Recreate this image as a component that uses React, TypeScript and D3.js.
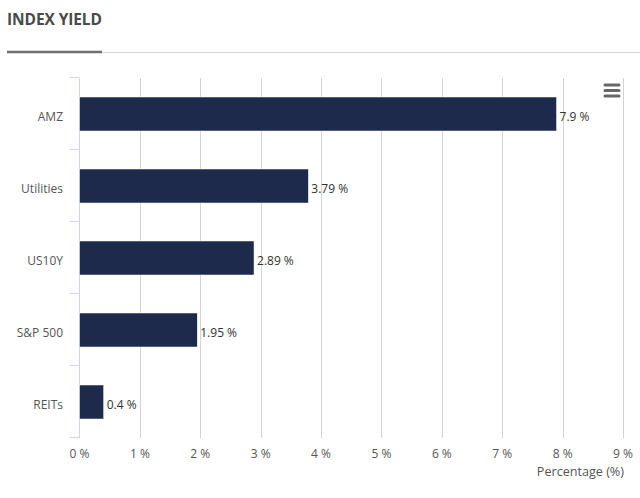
import React from "react";
import * as d3 from "d3";

const categories = ["AMZ", "Utilities", "US10Y", "S&P 500", "REITs"];
const values = [7.9, 3.79, 2.89, 1.95, 0.4];
const xTicks = [0, 1, 2, 3, 4, 5, 6, 7, 8, 9];
const title = "INDEX YIELD";
const axisTitle = "Percentage (%)";

const W = 640;
const H = 498;
const left = 79.5;
const right = 623;
const top = 78;
const bottom = 438;
const font = "'Open Sans', 'DejaVu Sans', sans-serif";

export default function App() {
  const x = d3.scaleLinear().domain([0, 9]).range([left, right]);
  const y = d3.scaleBand().domain(categories).range([top, bottom]);
  const barH = 34;
  const boundaries = d3.range(categories.length + 1).map((i) => top + i * y.step());

  return (
    <svg
      width={W}
      height={H}
      style={{ position: "absolute", left: 0, top: 0, background: "#fff" }}
      fontFamily={font}
    >
      <text x={7} y={25} fontSize={15.5} fontWeight={700} fill="#4a4a4a" letterSpacing={-0.1}>
        {title}
      </text>
      <line x1={7} x2={640} y1={52.5} y2={52.5} stroke="#d8d8d8" strokeWidth={1} />
      <line x1={7} x2={102} y1={52} y2={52} stroke="#6b6e76" strokeWidth={2.5} />

      {xTicks.slice(1).map((t) => (
        <line key={t} x1={Math.round(x(t)) + 0.5} x2={Math.round(x(t)) + 0.5} y1={top} y2={bottom} stroke="#d3d3d3" strokeWidth={1} />
      ))}

      <line x1={left} x2={left} y1={top} y2={bottom} stroke="#ccd6eb" strokeWidth={1} />
      {boundaries.map((b, i) => (
        <line key={i} x1={left - 10} x2={left} y1={Math.round(b) - 0.5} y2={Math.round(b) - 0.5} stroke="#ccd6eb" strokeWidth={1} />
      ))}

      {categories.map((c, i) => {
        const cy = (y(c) as number) + y.bandwidth() / 2;
        return (
          <g key={c}>
            <rect
              x={left}
              y={cy - barH / 2}
              width={x(values[i]) - x(0)}
              height={barH}
              fill="#1e2a4c"
              stroke="#ffffff"
              strokeWidth={0.5}
            />
            <text x={63} y={cy + 7} fontSize={12} fill="#555" textAnchor="end">
              {c}
            </text>
            <text x={x(values[i]) + 3} y={cy + 7} fontSize={12} fill="#333">
              {`${values[i]} %`}
            </text>
          </g>
        );
      })}

      {xTicks.map((t) => (
        <text key={t} x={x(t)} y={458} fontSize={12} fill="#555" textAnchor="middle">
          {`${t} %`}
        </text>
      ))}
      <text x={624} y={476} fontSize={12.6} fill="#555" textAnchor="end">
        {axisTitle}
      </text>

      <g stroke="#666" strokeWidth={3} strokeLinecap="round">
        <line x1={605} x2={619} y1={85} y2={85} />
        <line x1={605} x2={619} y1={90.5} y2={90.5} />
        <line x1={605} x2={619} y1={96} y2={96} />
      </g>
    </svg>
  );
}
